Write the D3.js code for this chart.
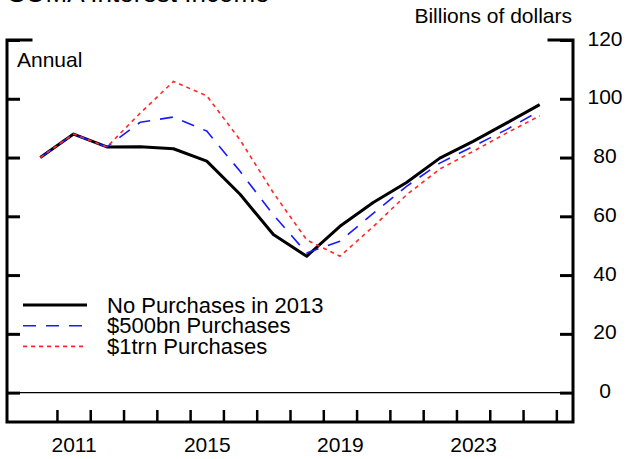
<!DOCTYPE html>
<html>
<head>
<meta charset="utf-8">
<script src="https://cdn.jsdelivr.net/npm/d3@7"></script>
<style>
	body { margin: 0; background: #fff; }
	svg { display: block; font-family: 'Liberation Sans', Arial, sans-serif; }
	.axis text { font-size: 21px; fill: #000; }
</style>
</head>
<body>
<div class="chart"></div>
<script>
const YEARS = d3.range(2010, 2026)
const NO_PURCHASES = [80.0, 88.0, 83.6, 83.7, 83.0, 78.8, 67.5, 53.8, 46.4, 56.6, 64.7, 71.5, 79.8, 85.5, 91.7, 98.0]
const P500 = [80.0, 88.0, 83.6, 92.0, 93.8, 89.0, 75.3, 60.5, 47.5, 51.5, 61.0, 70.2, 78.1, 83.8, 89.5, 95.9]
const P1TRN = [80.0, 88.0, 83.6, 95.1, 105.9, 101.0, 86.0, 68.0, 52.0, 46.4, 56.5, 67.3, 76.1, 82.1, 88.3, 94.2]
const SERIES_NAMES = ['No Purchases in 2013', '$500bn Purchases', '$1trn Purchases']
const Y_TICKS = [0, 20, 40, 60, 80, 100, 120]
const X_LABELS = [2011, 2015, 2019, 2023]
const X_TICKS = d3.range(2011, 2027)

const WIDTH = 627
const HEIGHT = 459
const FONT_SIZE = 21

const series = [
	{ name: SERIES_NAMES[0], values: NO_PURCHASES, color: '#000', width: 3, dash: null },
	{ name: SERIES_NAMES[1], values: P500, color: '#1a1aff', width: 1.6, dash: '13,10' },
	{ name: SERIES_NAMES[2], values: P1TRN, color: '#ff2626', width: 1.6, dash: '4,4' },
]

const scaleX = d3.scaleLinear().domain([2009.5, 2026.5]).range([7, 573])
const scaleY = d3.scaleLinear().domain([-10, 120]).range([422, 40])

const svg = d3.select('.chart').append('svg')
	.attr('width', WIDTH)
	.attr('height', HEIGHT)

// title, mostly cut off at the top edge
svg.append('text')
	.attr('x', 8)
	.attr('y', 2)
	.style('font-size', '26px')
	.text('SOMA Interest Income')

svg.append('text')
	.attr('x', 572)
	.attr('y', 23)
	.attr('text-anchor', 'end')
	.style('font-size', `${FONT_SIZE}px`)
	.text('Billions of dollars')

svg.append('text')
	.attr('x', 17)
	.attr('y', 67)
	.style('font-size', `${FONT_SIZE}px`)
	.text('Annual')

const [x0, x1] = scaleX.range()
const [yB, yT] = scaleY.range()

// zero line
svg.append('line')
	.attr('x1', x0).attr('x2', x1)
	.attr('y1', scaleY(0)).attr('y2', scaleY(0))
	.attr('stroke', '#000')
	.attr('stroke-width', 1.4)

// right axis with labels
const axisR = d3.axisRight(scaleY)
	.tickValues(Y_TICKS)
	.tickSizeInner(-13)
	.tickSizeOuter(0)
	.tickPadding(32)

const gR = svg.append('g').attr('class', 'axis')
	.attr('transform', `translate(${x1},0)`)
	.call(axisR)
gR.select('.domain').remove()
gR.selectAll('line').attr('stroke-width', 3)
gR.selectAll('text')
	.attr('text-anchor', 'middle')
	.attr('dy', '0.24em')

// left axis, ticks only
const axisL = d3.axisLeft(scaleY)
	.tickValues(Y_TICKS)
	.tickSizeInner(-13)
	.tickSizeOuter(0)
	.tickFormat('')

const gL = svg.append('g').attr('class', 'axis')
	.attr('transform', `translate(${x0},0)`)
	.call(axisL)
gL.select('.domain').remove()
gL.selectAll('line').attr('stroke-width', 3)

// bottom axis: ticks at year boundaries, labels at mid-year
const axisB = d3.axisBottom(scaleX)
	.tickValues(X_TICKS)
	.tickSizeInner(-12)
	.tickSizeOuter(0)
	.tickFormat('')

const gB = svg.append('g').attr('class', 'axis')
	.attr('transform', `translate(0,${yB})`)
	.call(axisB)
gB.select('.domain').remove()
gB.selectAll('line').attr('stroke-width', 2.5)

const axisBL = d3.axisBottom(scaleX)
	.tickValues(X_LABELS.map(d => d + 0.5))
	.tickSize(0)
	.tickPadding(15)
	.tickFormat(d => Math.floor(d))

const gBL = svg.append('g').attr('class', 'axis')
	.attr('transform', `translate(0,${yB})`)
	.call(axisBL)
gBL.select('.domain').remove()

// frame with corner ticks at the top
svg.append('path')
	.attr('d', `M${x0 + 24},${yT}H${x0}V${yB}H${x1}V${yT}H${x1 - 24}`)
	.attr('fill', 'none')
	.attr('stroke', '#000')
	.attr('stroke-width', 3)
	.attr('stroke-linecap', 'square')

const line = d3.line()
	.x((d, i) => scaleX(YEARS[i] + 0.5))
	.y(d => scaleY(d))

svg.selectAll('.series')
	.data(series)
	.enter().append('path')
	.attr('class', 'series')
	.attr('d', d => line(d.values))
	.attr('fill', 'none')
	.attr('stroke', d => d.color)
	.attr('stroke-width', d => d.width)
	.attr('stroke-dasharray', d => d.dash)
	.attr('stroke-linejoin', 'round')

// legend
const legend = svg.append('g').attr('transform', 'translate(23,305)')
const item = legend.selectAll('.item')
	.data(series)
	.enter().append('g')
	.attr('class', 'item')
	.attr('transform', (d, i) => `translate(0,${i * 20.7})`)

item.append('line')
	.attr('x1', 0).attr('x2', 64)
	.attr('stroke', d => d.color)
	.attr('stroke-width', d => d.width)
	.attr('stroke-dasharray', d => d.dash)

item.append('text')
	.attr('x', 84)
	.attr('y', 7.5)
	.style('font-size', '22px')
	.text(d => d.name)
</script>
</body>
</html>
